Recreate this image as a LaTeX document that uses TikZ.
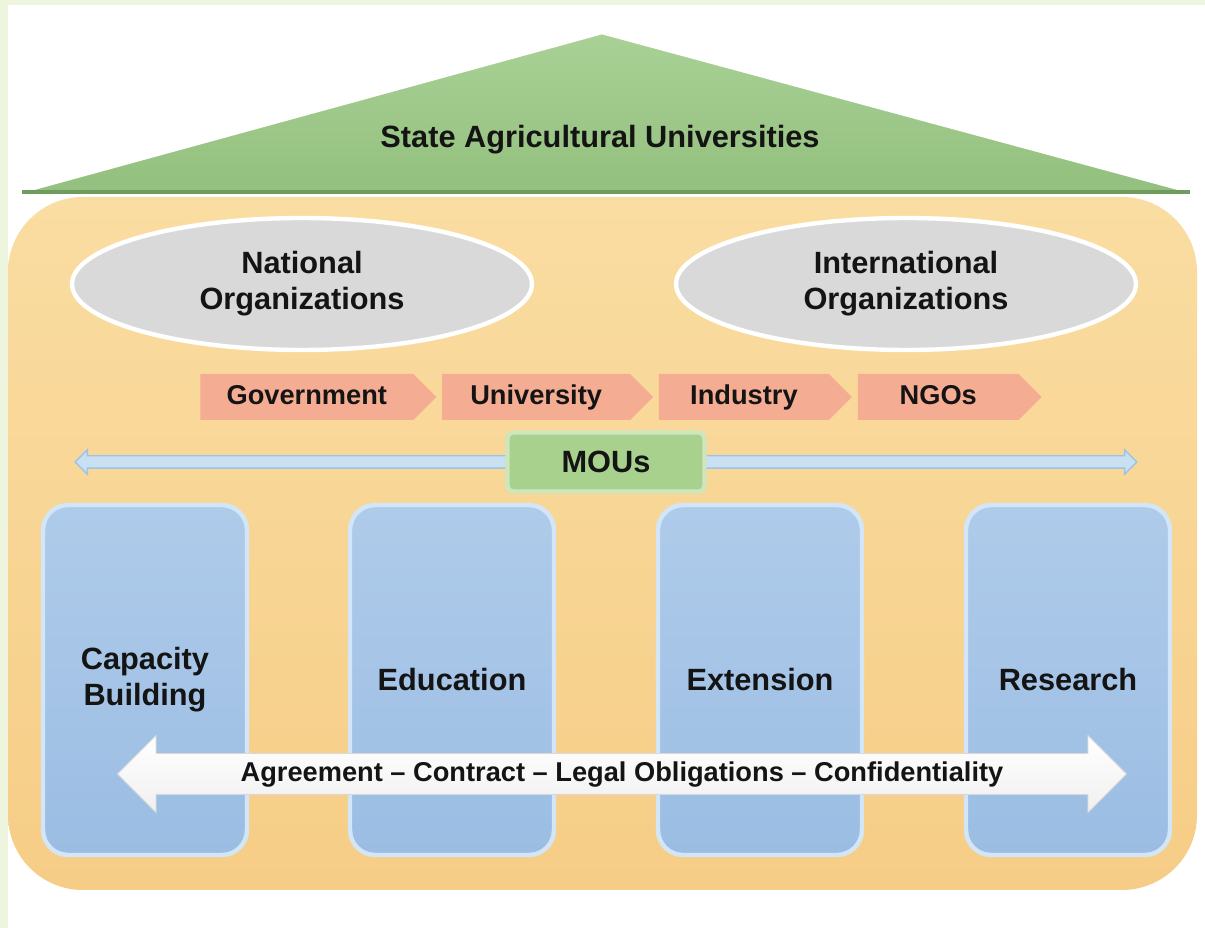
\documentclass[tikz,border=0pt]{standalone}
\usepackage{fontspec}
\setmainfont{Liberation Sans}
\usetikzlibrary{positioning}
\usetikzlibrary{shapes.geometric}
\usetikzlibrary{shapes.symbols}
\usetikzlibrary{shapes.arrows}

\definecolor{framegreen}{HTML}{EEF5DE}
\definecolor{rooftop}{HTML}{A9D196}
\definecolor{roofbot}{HTML}{93C07E}
\definecolor{roofedge}{HTML}{6F9C5C}
\definecolor{housetop}{HTML}{FADDA2}
\definecolor{housebot}{HTML}{F6CD86}
\definecolor{orggray}{HTML}{D9D9D9}
\definecolor{chevred}{HTML}{F4AC92}
\definecolor{moutube}{HTML}{C9E0F2}
\definecolor{moutubeedge}{HTML}{9DC3E6}
\definecolor{mougreen}{HTML}{A9D18E}
\definecolor{mouedge}{HTML}{CDE6BC}
\definecolor{pillartop}{HTML}{AFCBEA}
\definecolor{pillarbot}{HTML}{9BBDE3}
\definecolor{pillaredge}{HTML}{D3E6F7}
\definecolor{inktext}{HTML}{141414}

\begin{document}
\begin{tikzpicture}[x=0.02cm,y=-0.02cm,
      bigfont/.style={font=\fontsize{17.5}{20.5}\selectfont\bfseries\color{inktext}},
      smallfont/.style={font=\fontsize{15.5}{18}\selectfont\bfseries\color{inktext}},
      orgell/.style={ellipse,draw=white,line width=2.5pt,fill=orggray,minimum width=9.2cm,minimum height=2.64cm,align=center,bigfont},
      chev/.style={signal,signal to=east,signal pointer angle=90,fill=chevred,minimum height=0.92cm,inner sep=0pt,text height=11pt,text depth=3pt,smallfont},
      pillar/.style={rounded corners=0.5cm,draw=pillaredge,line width=2.5pt,top color=pillartop,bottom color=pillarbot,minimum width=4.08cm,minimum height=7cm,align=center,bigfont},
    ]
        \useasboundingbox (0,0) rectangle (1205,928);
        \fill[white] (0,0) rectangle (1205,928);
        \fill[framegreen] (0,0) rectangle (8,928);
        \fill[framegreen] (0,0) rectangle (1205,5);

        \shade[rounded corners=1.5cm,top color=housetop,bottom color=housebot] (8,197) rectangle (1197,890);

        \coordinate (apex) at (602,33);
        \coordinate (eaveL) at (22,192);
        \coordinate (eaveR) at (1190,192);
        \filldraw[draw=white,line width=1.5pt,top color=rooftop,bottom color=roofbot] (eaveL) -- (apex) -- (eaveR) -- cycle;
        \draw[roofedge,line width=2pt] (eaveL) -- (eaveR);
        \node[bigfont] (sau) at (600,140) {State Agricultural Universities};

        \node[orgell] (natorg) at (302,284) {National\\Organizations};
        \node[orgell] (intorg) at (906,284) {International\\Organizations};

        \node[chev,minimum width=4.72cm,anchor=west] (gov) at (200,397) {Government};
        \node[chev,minimum width=4.22cm,right=0.1cm of gov] (univ) {University};
        \node[chev,minimum width=3.86cm,right=0.1cm of univ] (ind) {Industry};
        \node[chev,minimum width=3.68cm,right=0.1cm of ind] (ngo) {NGOs};

        \node[double arrow,double arrow head extend=0.12cm,double arrow tip angle=90,fill=moutube,draw=moutubeedge,line width=0.8pt,inner sep=0pt,text height=0.22cm,text depth=0pt,minimum height=21.24cm] (moutube) at (606,462) {};
        \node[rounded corners=3pt,fill=mougreen,draw=mouedge,line width=2.5pt,minimum width=3.94cm,minimum height=1.18cm,bigfont] (mou) at (606,462) {MOUs};

        \node[pillar] (capb) at (145,680) {Capacity\\Building};
        \node[pillar] (edu) at (452,680) {Education};
        \node[pillar] (ext) at (760,680) {Extension};
        \node[pillar] (res) at (1068,680) {Research};

        \node[double arrow,double arrow head extend=0.36cm,double arrow tip angle=90,top color=white,bottom color=gray!12,draw=gray!30,line width=0.5pt,inner xsep=0pt,inner ysep=0.1cm,text height=0.45cm,text depth=0.15cm,minimum height=20.18cm,smallfont] (agree) at (622,774) {Agreement -- Contract -- Legal Obligations -- Confidentiality};
    \end{tikzpicture}
\end{document}
